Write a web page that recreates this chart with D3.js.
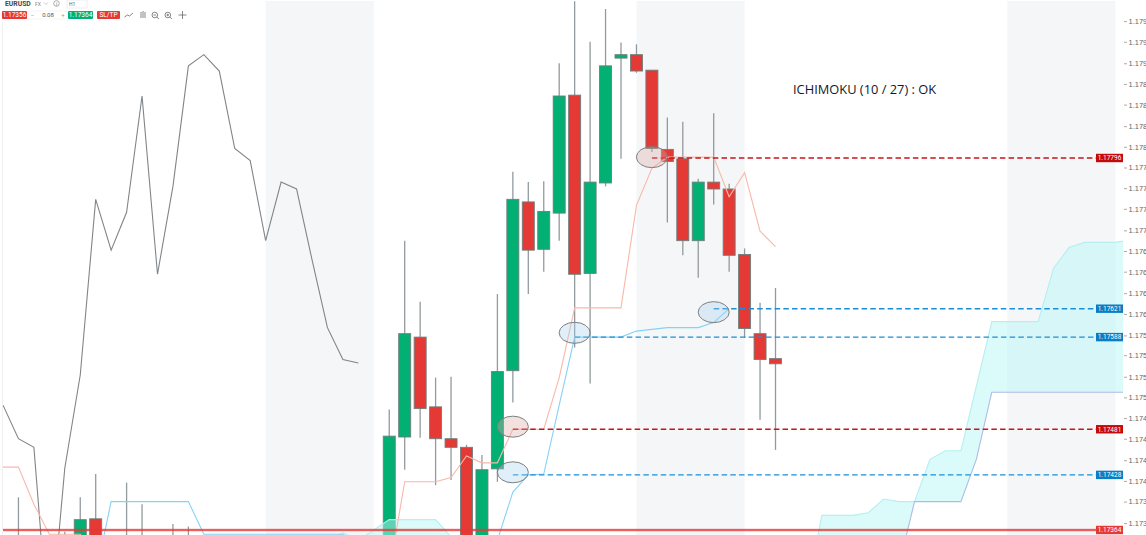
<!DOCTYPE html>
<html lang="en">

<head>
    <meta charset="utf-8">
    <title>EURUSD Ichimoku</title>
    <script src="https://cdn.jsdelivr.net/npm/d3@7"></script>
    <style>
        body {
            margin: 0;
            background: #fff;
        }

        svg {
            display: block;
            font-family: Roboto, sans-serif;
        }

        .axis text {
            fill: #666;
            font-size: 7.5px;
        }

        .axis line {
            stroke: #aaa;
        }
    </style>
</head>

<body>
    <div id="chart"></div>

    <script type="text/javascript">
        // candles, by bar number
        var candleBars = [1, 4, 5, 6, 8, 9, 11, 12, 25, 26, 27, 28, 29, 30, 31, 32, 33, 34, 35, 36, 37, 38, 39, 40, 41, 42, 43, 44, 45, 46, 47, 48, 49, 50];
        var opens = [1.17345, 1.17347, 1.17343, 1.17377, 1.17352, 1.17350, 1.17347, 1.17347, 1.17329, 1.17472, 1.17588, 1.17507, 1.17470, 1.17460, 1.17329, 1.17435, 1.17549, 1.17745, 1.17690, 1.17732, 1.17869, 1.17662, 1.17767, 1.17912, 1.17916, 1.17898, 1.17806, 1.17795, 1.17700, 1.17768, 1.17760, 1.17684, 1.17592, 1.17563];
        var highs = [1.17402, 1.17362, 1.17402, 1.17429, 1.17419, 1.17394, 1.17371, 1.17368, 1.17504, 1.17700, 1.17629, 1.17541, 1.17542, 1.17463, 1.17451, 1.17638, 1.17780, 1.17768, 1.17769, 1.17906, 1.17978, 1.17931, 1.17969, 1.17930, 1.17928, 1.17898, 1.17843, 1.17838, 1.17772, 1.17848, 1.17766, 1.17691, 1.17628, 1.17645];
        var lows = [1.17318, 1.17318, 1.17329, 1.17323, 1.17329, 1.17323, 1.17323, 1.17323, 1.17318, 1.17434, 1.17471, 1.17416, 1.17422, 1.17318, 1.17318, 1.17420, 1.17512, 1.17638, 1.17664, 1.17700, 1.17576, 1.17534, 1.17763, 1.17795, 1.17895, 1.17803, 1.17721, 1.17683, 1.17657, 1.17742, 1.17664, 1.17587, 1.17492, 1.17457];
        var closes = [1.17334, 1.17334, 1.17376, 1.17341, 1.17341, 1.17338, 1.17335, 1.17335, 1.17473, 1.17592, 1.17505, 1.17470, 1.17460, 1.17329, 1.17434, 1.17548, 1.17748, 1.17689, 1.17734, 1.17868, 1.17661, 1.17768, 1.17903, 1.17916, 1.17897, 1.17807, 1.17792, 1.17700, 1.17768, 1.17760, 1.17683, 1.17598, 1.17562, 1.17557];

        // ichimoku lines, each starts at the bar given
        var chikouStart = 0;
        var chikou = [1.17509, 1.17470, 1.17460, 1.17236, 1.17436, 1.17544, 1.17748, 1.17689, 1.17733, 1.17868, 1.17661, 1.17763, 1.17903, 1.17916, 1.17897, 1.17807, 1.17793, 1.17700, 1.17768, 1.17760, 1.17678, 1.17599, 1.17562, 1.17558];
        var tenkanStart = 0;
        var tenkan = [1.17437, 1.17437, 1.17394, 1.17359, 1.17359, 1.17359, 1.17330, 1.17330, 1.17330, 1.17330, 1.17330, 1.17330, 1.17330, 1.17330, 1.17330, 1.17330, 1.17330, 1.17330, 1.17330, 1.17330, 1.17330, 1.17330, 1.17330, 1.17330, 1.17330, 1.17315, 1.17420, 1.17420, 1.17420, 1.17425, 1.17450, 1.17442, 1.17442, 1.17481, 1.17481, 1.17481, 1.17541, 1.17622, 1.17622, 1.17622, 1.17622, 1.17741, 1.17784, 1.17797, 1.17797, 1.17797, 1.17797, 1.17751, 1.17779, 1.17711, 1.17693];
        var kijunStart = 6;
        var kijun = [1.17312, 1.17397, 1.17397, 1.17397, 1.17397, 1.17397, 1.17397, 1.17359, 1.17359, 1.17359, 1.17359, 1.17359, 1.17359, 1.17359, 1.17359, 1.17359, 1.17359, 1.17347, 1.17330, 1.17330, 1.17330, 1.17330, 1.17330, 1.17330, 1.17330, 1.17330, 1.17352, 1.17408, 1.17428, 1.17429, 1.17509, 1.17588, 1.17588, 1.17588, 1.17588, 1.17595, 1.17597, 1.17599, 1.17599, 1.17599, 1.17605, 1.17621];

        // cloud edges
        var cloudStart = 21;
        var senkouA = [1.17352, 1.17361, 1.17352, 1.17364, 1.17376, 1.17376, 1.17376, 1.17376, 1.17356, 1.17320, 1.17320, 1.17320, 1.17320, 1.17320, 1.17320, 1.17320, 1.17320, 1.17320, 1.17320, 1.17320, 1.17320, 1.17320, 1.17320, 1.17320, 1.17320, 1.17320, 1.17320, 1.17320, 1.17320, 1.17320, 1.17320, 1.17289, 1.17381, 1.17381, 1.17381, 1.17384, 1.17400, 1.17397, 1.17397, 1.17446, 1.17456, 1.17456, 1.17531, 1.17606, 1.17606, 1.17606, 1.17606, 1.17668, 1.17692, 1.17698, 1.17698, 1.17698, 1.17701];
        var senkouB = [1.17310, 1.17310, 1.17310, 1.17310, 1.17310, 1.17310, 1.17310, 1.17310, 1.17310, 1.17310, 1.17310, 1.17310, 1.17310, 1.17310, 1.17310, 1.17310, 1.17310, 1.17310, 1.17310, 1.17310, 1.17310, 1.17310, 1.17310, 1.17310, 1.17310, 1.17310, 1.17310, 1.17310, 1.17310, 1.17310, 1.17310, 1.17310, 1.17310, 1.17310, 1.17310, 1.17310, 1.17310, 1.17323, 1.17397, 1.17397, 1.17397, 1.17397, 1.17446, 1.17524, 1.17524, 1.17524, 1.17524, 1.17524, 1.17524, 1.17524, 1.17524, 1.17524, 1.17524];

        // closed market sessions
        var sessionStarts = [17, 41, 65];
        var sessionEnds = [24, 48, 72];

        // dashed levels
        var levelPrices = [1.17796, 1.17621, 1.17588, 1.17481, 1.17428];
        var levelLabels = ['1.17796', '1.17621', '1.17588', '1.17481', '1.17428'];
        var levelStarts = [42, 46, 37, 33, 33];
        var levelKinds = ['sell', 'buy', 'buy', 'sell', 'buy'];

        // circled signals
        var markBars = [42, 37, 33, 33, 46];
        var markPrices = [1.17797, 1.17593, 1.17484, 1.17431, 1.17617];
        var markKinds = ['sell', 'buy', 'sell', 'buy', 'buy'];

        var currentPrice = 1.17364;
        var currentLabel = '1.17364';

        var tickValues = [1.17372, 1.17397, 1.17421, 1.17445, 1.17470, 1.17494, 1.17518, 1.17542, 1.17567, 1.17590, 1.17615, 1.17639, 1.17664, 1.17688, 1.17712, 1.17737, 1.17761, 1.17785, 1.17809, 1.17833, 1.17858, 1.17882, 1.17906, 1.17931, 1.17955];
        var tickLabels = ['1.173', '1.173', '1.174', '1.174', '1.174', '1.174', '1.175', '1.175', '1.175', '1.175', '1.176', '1.176', '1.176', '1.176', '1.177', '1.177', '1.177', '1.177', '1.178', '1.178', '1.178', '1.178', '1.179', '1.179', '1.179'];

        var width = 1146;
        var height = 535;
        var plotRight = 1123;

        var svg = d3.select('#chart')
            .append('svg')
            .attr('width', width)
            .attr('height', height);

        var xScale = d3.scaleLinear()
            .domain([0, 73])
            .range([3, 1130.85]);
        var yScale = d3.scaleLinear()
            .domain([1.17364, 1.17796])
            .range([530, 158]);

        svg.append('clipPath')
            .attr('id', 'plotClip')
            .append('rect')
            .attr('x', 2)
            .attr('y', 0)
            .attr('width', plotRight - 2)
            .attr('height', height);

        var plot = svg.append('g').attr('clip-path', 'url(#plotClip)');

        plot.selectAll('.session')
            .data(sessionStarts)
            .enter()
            .append('rect')
            .attr('class', 'session')
            .attr('x', d => xScale(d))
            .attr('y', 1)
            .attr('width', (d, i) => xScale(sessionEnds[i]) - xScale(d))
            .attr('height', height)
            .attr('fill', '#f5f6f8');

        // wicks first, bodies on top
        plot.selectAll('.wick')
            .data(candleBars)
            .enter()
            .append('line')
            .attr('class', 'wick')
            .attr('x1', d => xScale(d))
            .attr('x2', d => xScale(d))
            .attr('y1', (d, i) => yScale(highs[i]))
            .attr('y2', (d, i) => yScale(lows[i]))
            .attr('stroke', '#939a9e')
            .attr('stroke-width', 1.3);

        plot.selectAll('.body')
            .data(candleBars)
            .enter()
            .append('rect')
            .attr('class', 'body')
            .attr('x', d => xScale(d) - 6)
            .attr('y', (d, i) => yScale(Math.max(opens[i], closes[i])))
            .attr('width', 12)
            .attr('height', (d, i) => Math.abs(yScale(opens[i]) - yScale(closes[i])))
            .attr('fill', (d, i) => closes[i] >= opens[i] ? '#03b073' : '#e53935')
            .attr('stroke', '#6c7f7c')
            .attr('stroke-width', 0.9);

        // cloud
        var cloudArea = d3.area()
            .x((d, i) => xScale(cloudStart + i))
            .y0((d, i) => yScale(senkouB[i]))
            .y1(d => yScale(d));

        plot.append('path')
            .attr('d', cloudArea(senkouA))
            .attr('fill', '#b8f5f6')
            .attr('fill-opacity', 0.5);

        function drawLine(values, start, color) {
            var line = d3.line()
                .x((d, i) => xScale(start + i))
                .y(d => yScale(d));

            plot.append('path')
                .attr('d', line(values))
                .attr('fill', 'none')
                .attr('stroke', color)
                .attr('stroke-width', 1.1);
        }

        drawLine(senkouA, cloudStart, '#b4eff2');
        drawLine(senkouB, cloudStart, '#adbce4');
        drawLine(chikou, chikouStart, '#808589');
        drawLine(tenkan, tenkanStart, '#f8b8aa');
        drawLine(kijun, kijunStart, '#85d2f6');

        // levels
        var levelColors = { sell: '#c8141a', buy: '#1a8fd8' };
        var labelColors = { sell: '#c40a0a', buy: '#0a7dc4' };
        var markFills = { sell: 'rgba(222,170,165,0.35)', buy: 'rgba(170,210,238,0.35)' };

        plot.selectAll('.level')
            .data(levelPrices)
            .enter()
            .append('line')
            .attr('class', 'level')
            .attr('x1', (d, i) => xScale(levelStarts[i]))
            .attr('x2', 1097)
            .attr('y1', d => yScale(d))
            .attr('y2', d => yScale(d))
            .attr('stroke', (d, i) => levelColors[levelKinds[i]])
            .attr('stroke-width', 1.4)
            .attr('stroke-dasharray', '5.5 3.2');

        plot.selectAll('.mark')
            .data(markBars)
            .enter()
            .append('ellipse')
            .attr('class', 'mark')
            .attr('cx', d => xScale(d))
            .attr('cy', (d, i) => yScale(markPrices[i]))
            .attr('rx', 15.5)
            .attr('ry', 10.5)
            .attr('fill', (d, i) => markFills[markKinds[i]])
            .attr('stroke', '#7c7f82')
            .attr('stroke-width', 1);

        // current price
        plot.append('line')
            .attr('x1', 2)
            .attr('x2', plotRight)
            .attr('y1', yScale(currentPrice))
            .attr('y2', yScale(currentPrice))
            .attr('stroke', '#e53935')
            .attr('stroke-opacity', 0.2)
            .attr('stroke-width', 3.5);
        plot.append('line')
            .attr('x1', 2)
            .attr('x2', plotRight)
            .attr('y1', yScale(currentPrice))
            .attr('y2', yScale(currentPrice))
            .attr('stroke', '#e53935')
            .attr('stroke-width', 1.5);

        function priceTag(price, label, color) {
            var y = yScale(price);
            svg.append('rect')
                .attr('x', 1096)
                .attr('y', y - 4.2)
                .attr('width', 27)
                .attr('height', 8.4)
                .attr('fill', color);
            svg.append('text')
                .attr('x', 1109.5)
                .attr('y', y + 2.3)
                .attr('text-anchor', 'middle')
                .attr('fill', '#fff')
                .attr('font-size', 6.5)
                .text(label);
        }

        levelPrices.forEach((d, i) => priceTag(d, levelLabels[i], labelColors[levelKinds[i]]));
        priceTag(currentPrice, currentLabel, '#e53935');

        // price axis
        var yAxis = d3.axisRight(yScale)
            .tickValues(tickValues)
            .tickFormat((d, i) => tickLabels[i])
            .tickSize(3)
            .tickPadding(1.5);

        svg.append('g')
            .attr('class', 'axis')
            .attr('transform', `translate(${plotRight + 1},0)`)
            .call(yAxis)
            .call(g => g.select('.domain').remove());

        svg.append('line')
            .attr('x1', 2.5)
            .attr('x2', 2.5)
            .attr('y1', 0)
            .attr('y2', height)
            .attr('stroke', '#f0f0f0');

        svg.append('text')
            .attr('x', 793)
            .attr('y', 94)
            .attr('font-family', '"Open Sans", sans-serif')
            .attr('font-size', 12.85)
            .attr('fill', '#10182a')
            .text('ICHIMOKU (10 / 27) : OK');

        // toolbar
        var toolbar = svg.append('g');

        function toolText(x, y, label, color, size, weight, anchor) {
            toolbar.append('text')
                .attr('x', x)
                .attr('y', y)
                .attr('fill', color)
                .attr('font-size', size)
                .attr('font-weight', weight || 400)
                .attr('text-anchor', anchor || 'start')
                .text(label);
        }

        function toolBox(x, w, color) {
            toolbar.append('rect')
                .attr('x', x)
                .attr('y', 11)
                .attr('width', w)
                .attr('height', 8)
                .attr('rx', 1)
                .attr('fill', color);
        }

        toolbar.append('rect').attr('x', 0).attr('y', 0).attr('width', 200).attr('height', 22).attr('fill', '#fff');
        toolText(5, 6, 'EURUSD', '#444', 6.8, 700);
        toolText(35, 6, 'FX', '#888', 5);
        toolbar.append('path').attr('d', 'M44,2.5L46,4.5L48,2.5').attr('fill', 'none').attr('stroke', '#aaa').attr('stroke-width', 0.6);
        toolbar.append('circle').attr('cx', 56.5).attr('cy', 3.5).attr('r', 2.8).attr('fill', 'none').attr('stroke', '#777').attr('stroke-width', 0.6);
        toolText(56.5, 5.5, 'i', '#777', 5, 400, 'middle');
        toolbar.append('rect').attr('x', 67).attr('y', 0).attr('width', 20).attr('height', 8).attr('fill', 'none').attr('stroke', '#eee');
        toolText(69, 6, 'H1', '#666', 5);

        toolBox(2, 25, '#e53935');
        toolText(14.5, 17, '1.17356', '#fff', 6.5, 400, 'middle');
        toolbar.append('rect').attr('x', 28).attr('y', 11).attr('width', 39).attr('height', 8).attr('fill', 'none').attr('stroke', '#eee').attr('stroke-width', 0.6);
        toolText(32.5, 17, '–', '#999', 6, 400, 'middle');
        toolText(48, 17, '0.08', '#555', 6, 400, 'middle');
        toolText(63, 17, '+', '#999', 6, 400, 'middle');
        toolBox(68, 25, '#03b073');
        toolText(80.5, 17, '1.17364', '#fff', 6.5, 400, 'middle');
        toolBox(97, 23, '#e53935');
        toolText(108.5, 17, 'SL/TP', '#fff', 6.5, 400, 'middle');

        toolbar.selectAll('.icon')
            .data(['M124.5,17L127.5,15L129.5,16L133,13', 'M141,12V18M143,11V18M145,12V18', 'M152,15a2.8,2.8 0 1,0 5.6,0a2.8,2.8 0 1,0 -5.6,0M156.8,17L159,19M153.5,15H156', 'M165,15a2.8,2.8 0 1,0 5.6,0a2.8,2.8 0 1,0 -5.6,0M169.8,17L172,19M166.5,15H169M167.8,13.7V16.3', 'M182.5,11V19M178.5,15H186.5'])
            .enter()
            .append('path')
            .attr('class', 'icon')
            .attr('d', d => d)
            .attr('fill', 'none')
            .attr('stroke', '#555')
            .attr('stroke-width', 0.7);
    </script>
</body>

</html>
